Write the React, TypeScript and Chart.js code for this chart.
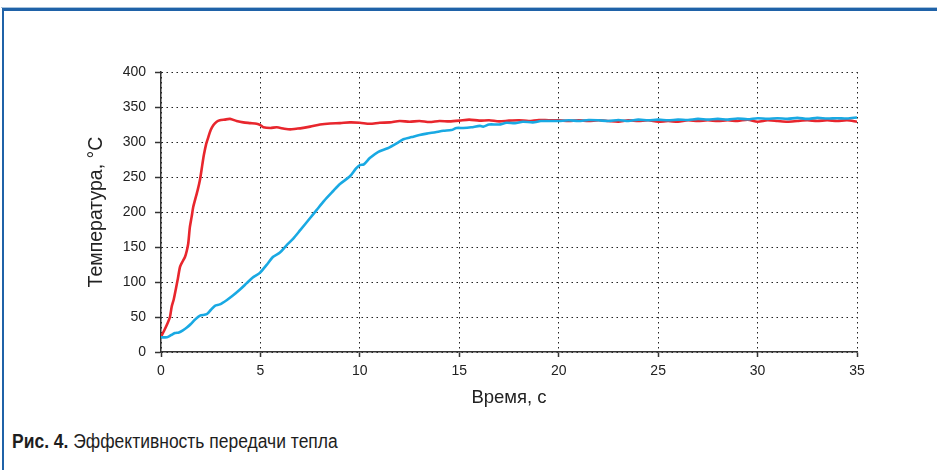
import React, { useEffect, useRef } from "react";
import { Chart, registerables } from "chart.js";

Chart.register(...registerables);

// Red series: time (s) and temperature (°C)
const redTime = [0, 0.15, 0.33, 0.45, 0.54, 0.64, 0.74, 0.85, 0.96, 1.1, 1.21, 1.3, 1.37, 1.45, 1.54, 1.62, 1.71, 1.85, 1.96, 2.08, 2.16, 2.27, 2.38, 2.5, 2.63, 2.8, 2.96, 3.2, 3.47, 3.8, 4.14, 4.5, 4.81, 5.0, 5.15, 5.5, 5.82, 6.2, 6.5, 6.8, 7.0, 7.5, 8.0, 8.5, 9.0, 9.5, 10.0, 10.5, 11.0, 11.5, 12.0, 12.5, 13.0, 13.5, 14.0, 14.5, 15.0, 15.5, 16.0, 16.5, 17.0, 17.5, 18.0, 18.5, 19.0, 19.5, 20.0, 20.5, 21.0, 21.5, 22.0, 22.5, 23.0, 23.5, 24.0, 24.5, 25.0, 25.5, 26.0, 26.5, 27.0, 27.5, 28.0, 28.5, 29.0, 29.5, 30.0, 30.5, 31.0, 31.5, 32.0, 32.5, 33.0, 33.5, 34.0, 34.5, 35.0];
const redTemp = [22, 30, 41, 50, 65, 75, 89, 105, 122, 130, 136, 145, 155, 178, 193, 207, 217, 232, 246, 268, 282, 297, 307, 317, 324, 329, 331, 332, 333, 330, 328, 327, 326, 324, 321, 320, 321, 319, 318, 319, 319.5, 322, 325, 326.5, 327, 328, 327.5, 326, 327.5, 328, 330, 329, 330, 328.5, 330, 329.5, 330.5, 332, 330.5, 331, 329.5, 330.5, 331, 330, 331.5, 331, 331, 330, 331, 330, 331, 330, 329, 331, 330, 331, 329, 330, 329, 331, 330, 331, 330, 331, 330, 332, 329, 331, 330, 329, 330, 331, 330, 331, 330, 331, 329];

// Blue series: time (s) and temperature (°C)
const blueTime = [0, 0.3, 0.5, 0.7, 0.9, 1.1, 1.3, 1.5, 1.7, 1.96, 2.3, 2.5, 2.71, 2.96, 3.3, 3.63, 4.0, 4.3, 4.6, 4.97, 5.3, 5.64, 5.98, 6.3, 6.65, 7.0, 7.49, 7.83, 8.2, 8.66, 9.0, 9.5, 9.8, 10.0, 10.2, 10.5, 10.93, 11.4, 11.85, 12.19, 12.6, 13.0, 13.36, 13.8, 14.2, 14.6, 14.86, 15.2, 15.6, 16.04, 16.2, 16.5, 17.0, 17.38, 17.8, 18.2, 18.7, 19.1, 19.56, 20.0, 20.5, 21.0, 21.5, 22.0, 22.5, 23.0, 23.5, 24.0, 24.5, 25.0, 25.5, 26.0, 26.5, 27.0, 27.5, 28.0, 28.5, 29.0, 29.5, 30.0, 30.5, 31.0, 31.5, 32.0, 32.5, 33.0, 33.5, 34.0, 34.5, 35.0];
const blueTemp = [21, 21, 24, 27, 28, 31, 35, 40, 46, 52, 54, 60, 66, 68, 74, 81, 90, 98, 106, 113, 124, 136, 142, 152, 162, 174, 191, 203, 216, 230, 240, 251, 262, 267, 268, 277, 286, 291, 298, 304, 307, 310, 312, 314, 316, 317, 320, 320, 321, 323, 322, 325, 325, 327.5, 327, 329, 328, 330, 330, 330, 331, 330, 331.5, 331, 330, 331.5, 330, 332, 331, 332, 331, 332, 331.5, 333, 332, 333, 332, 333.5, 332.5, 334, 333, 334, 333, 334.5, 333, 334.5, 333.5, 334, 333.5, 335];

const xTitle = "Время, с";
const yTitle = "Температура, °C";
const captionBold = "Рис. 4.";
const caption = "Эффективность передачи тепла";

export default function App() {
  const ref = useRef<HTMLCanvasElement | null>(null);
  const capRef = useRef<HTMLSpanElement | null>(null);

  useEffect(() => {
    if (capRef.current) {
      const w = capRef.current.offsetWidth;
      if (w > 0) {
        capRef.current.style.transform = `scaleX(${326 / w})`;
      }
    }
    if (!ref.current) return;
    const chart = new Chart(ref.current, {
      type: "line",
      data: {
        datasets: [
          {
            label: "red",
            data: redTime.map((t, i) => ({ x: t, y: redTemp[i] })),
            borderColor: "#e8262d",
            borderWidth: 2.6,
            pointRadius: 0,
            tension: 0.25,
            order: 1,
          },
          {
            label: "blue",
            data: blueTime.map((t, i) => ({ x: t, y: blueTemp[i] })),
            borderColor: "#19a9e3",
            borderWidth: 2.6,
            pointRadius: 0,
            tension: 0.25,
            order: 0,
          },
        ],
      },
      options: {
        responsive: false,
        animation: false,
        devicePixelRatio: 1,
        layout: { padding: { left: 0, top: 72, right: 80, bottom: 0 } },
        plugins: { legend: { display: false }, tooltip: { enabled: false } },
        scales: {
          x: {
            type: "linear",
            min: 0,
            max: 35,
            ticks: {
              stepSize: 5,
              color: "#222",
              padding: 6,
              maxRotation: 0,
              font: { family: "'Liberation Sans', Arial, sans-serif", size: 14 },
            },
            grid: {
              color: "#222",
              lineWidth: 1,
              tickLength: 5,
              tickColor: "#333",
              tickWidth: 1.5,
            },
            border: { display: true, color: "#333", width: 1.5, dash: [1.5, 3.5] },
            title: {
              display: true,
              text: xTitle,
              color: "#222",
              font: { family: "'Liberation Sans', Arial, sans-serif", size: 18.5 },
              padding: { top: 0, bottom: 11 },
            },
            afterFit: (s: any) => {
              s.height = 68;
            },
          },
          y: {
            type: "linear",
            min: 0,
            max: 400,
            ticks: {
              stepSize: 50,
              color: "#222",
              padding: 9,
              font: { family: "'Liberation Sans', Arial, sans-serif", size: 14 },
            },
            grid: {
              color: "#222",
              lineWidth: 1,
              tickLength: 6,
              tickColor: "#333",
              tickWidth: 1.5,
            },
            border: { display: true, color: "#333", width: 1.5, dash: [1.5, 3.5] },
            title: {
              display: true,
              text: yTitle,
              color: "#222",
              font: { family: "'Liberation Sans', Arial, sans-serif", size: 19.5 },
              padding: { top: 85, bottom: 0 },
            },
            afterFit: (s: any) => {
              s.width = 161;
            },
          },
        },
      },
    });
    return () => chart.destroy();
  }, []);

  return (
    <div
      style={{
        position: "fixed",
        left: 0,
        top: 0,
        width: 937,
        height: 470,
        background: "#fff",
        overflow: "hidden",
      }}
    >
      <div
        style={{
          position: "absolute",
          left: 1,
          top: 7,
          right: -10,
          height: 0,
          borderTop: "1px solid #a8c3dc",
        }}
      />
      <div
        style={{
          position: "absolute",
          left: 2,
          top: 8,
          right: -10,
          bottom: -10,
          borderTop: "3px solid #1f62a8",
          borderLeft: "2px solid #1f62a8",
        }}
      />
      <canvas
        ref={ref}
        width={937}
        height={420}
        style={{ position: "absolute", left: 0, top: 0, width: 937, height: 420 }}
      />
      <span
        ref={capRef}
        style={{
          position: "absolute",
          left: 12,
          top: 431,
          display: "inline-block",
          transformOrigin: "0 0",
          fontFamily: "'Liberation Sans', Arial, sans-serif",
          fontSize: 20,
          lineHeight: 1,
          color: "#1e1e1e",
          whiteSpace: "nowrap",
        }}
      >
        <b>{captionBold}</b> {caption}
      </span>
    </div>
  );
}
